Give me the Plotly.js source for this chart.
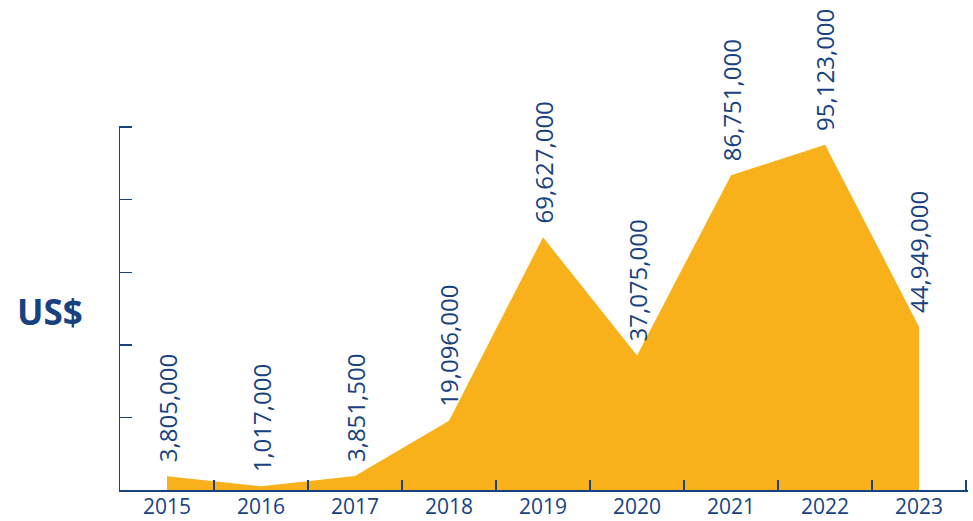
<!DOCTYPE html>
<html>
<head>
<meta charset="utf-8">
<script src="https://cdn.plot.ly/plotly-3.0.1.min.js"></script>
<style>html,body{margin:0;padding:0;background:#fff;}#chart{width:973px;height:521px;}</style>
</head>
<body>
<div id="chart"></div>
<script>
var years = ["2015","2016","2017","2018","2019","2020","2021","2022","2023"];
var amounts = [3805000, 1017000, 3851500, 19096000, 69627000, 37075000, 86751000, 95123000, 44949000];
var amountLabels = ["3,805,000","1,017,000","3,851,500","19,096,000","69,627,000","37,075,000","86,751,000","95,123,000","44,949,000"];
var yTitle = "US$";

var navy = "#17427f";
var fillColor = "#F9B11B";
var fontFam = "Open Sans, Noto Sans, sans-serif";

var trace = {
  type: "scatter",
  mode: "lines",
  x: years,
  y: amounts,
  fill: "tozeroy",
  fillcolor: fillColor,
  line: {color: fillColor, width: 0},
  hoverinfo: "skip"
};

var annotations = years.map(function(yr, i){
  return {
    x: i, y: amounts[i], xref: "x", yref: "y",
    text: amountLabels[i], textangle: -90, showarrow: false,
    xanchor: "center", yanchor: "bottom", yshift: 12,
    font: {family: fontFam, size: 24, color: navy}
  };
});
annotations.push({
  xref: "paper", yref: "paper", x: -0.083, y: 0.49,
  text: "<b>" + yTitle + "</b>", showarrow: false,
  xanchor: "center", yanchor: "middle",
  font: {family: fontFam, size: 35, color: navy}
});

var layout = {
  width: 973, height: 521,
  margin: {l: 120, r: 5, t: 126, b: 31},
  paper_bgcolor: "#fff", plot_bgcolor: "#fff",
  showlegend: false,
  font: {family: fontFam, color: navy},
  xaxis: {
    type: "category",
    range: [-0.5, 8.52],
    showline: true, linecolor: navy, linewidth: 1.5,
    ticks: "inside", tickson: "boundaries", ticklen: 10, tickwidth: 1.5, tickcolor: navy,
    showgrid: false, zeroline: false,
    ticklabelstandoff: -3,
    tickfont: {family: fontFam, size: 21, color: navy},
    fixedrange: true
  },
  yaxis: {
    range: [0, 100300000],
    tickvals: [0, 20000000, 40000000, 60000000, 80000000, 100000000],
    showline: true, linecolor: navy, linewidth: 1.5,
    ticks: "inside", ticklen: 12, tickwidth: 1.5, tickcolor: navy,
    showticklabels: false, showgrid: false, zeroline: false,
    fixedrange: true
  },
  annotations: annotations
};

Plotly.newPlot("chart", [trace], layout, {displayModeBar: false, staticPlot: true});
</script>
</body>
</html>
